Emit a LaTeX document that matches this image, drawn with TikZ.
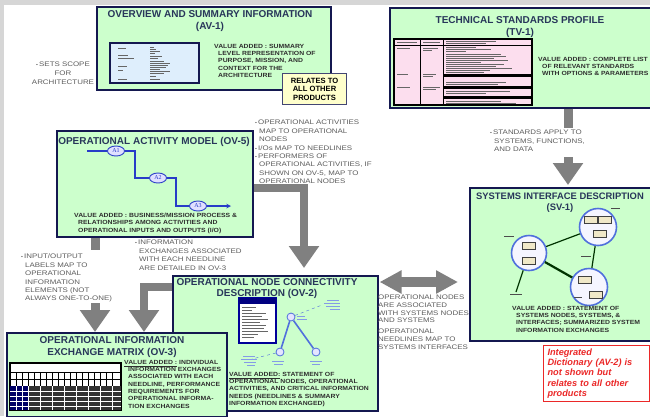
\documentclass[tikz,border=0pt]{standalone}
\usepackage{fontspec}
\setmainfont{Liberation Sans}
\newfontfamily\actfont{Liberation Serif}
\newfontfamily\valfont{Liberation Sans}[FakeStretch=1.14]
\newfontfamily\notefont{Liberation Sans}[FakeStretch=1.2]
\usetikzlibrary{arrows.meta,positioning,shapes.geometric}

\definecolor{boxgreen}{RGB}{204,255,204}
\definecolor{boxedge}{RGB}{20,24,80}
\definecolor{titlenavy}{RGB}{40,54,90}
\definecolor{notegray}{RGB}{92,92,92}
\definecolor{arrowgray}{RGB}{128,128,128}
\definecolor{framegray}{RGB}{214,214,214}
\definecolor{thumbblue}{RGB}{222,238,252}
\definecolor{tablepink}{RGB}{252,222,238}
\definecolor{actblue}{RGB}{40,60,200}
\definecolor{ringblue}{RGB}{80,112,220}
\definecolor{notered}{RGB}{235,40,40}
\definecolor{relyellow}{RGB}{255,255,204}
\definecolor{systan}{RGB}{240,232,200}

\newcommand{\nb}{{\fontsize{4.5}{4.5}\selectfont\textbullet}\,}
\newcommand{\ind}{\hspace*{4pt}}

\begin{document}
\begin{tikzpicture}[
x=1pt, y=-1pt,
>=stealth,
every node/.style={font=\fontsize{6}{7}\selectfont\bfseries},
viewbox/.style={draw=boxedge, line width=1.6pt, fill=boxgreen, anchor=north west, inner sep=0pt},
viewtitle/.style={font=\fontsize{10}{11.5}\selectfont\bfseries, text=titlenavy, align=center, inner sep=0pt},
valtext/.style={font=\valfont\fontsize{6}{7.3}\selectfont\bfseries, text=black!82, align=left, anchor=north west, inner sep=0pt},
notetext/.style={font=\notefont\fontsize{6.6}{8.4}\selectfont, text=notegray, align=left, anchor=north west, inner sep=0pt},
bigarrow/.style={draw=arrowgray, line width=9pt, -{Triangle[width=29pt,length=22pt]}},
stubline/.style={draw=arrowgray, line width=9pt},
twoway/.style={draw=arrowgray, line width=10pt, {Triangle[width=22pt,length=22pt]}-{Triangle[width=22pt,length=22pt]}},
thumb/.style={draw=boxedge, line width=1.2pt},
fakeline/.style={draw=black!60, line width=0.5pt},
bluefake/.style={draw=ringblue!70, line width=0.5pt},
activity/.style={ellipse, draw=actblue, fill=blue!12, line width=0.9pt, minimum width=17pt, minimum height=10pt, inner sep=0pt, font=\actfont\fontsize{6}{6}\selectfont, text=actblue},
actline/.style={draw=actblue, line width=1.1pt},
opnode/.style={circle, draw=ringblue, fill=blue!10, line width=0.8pt, minimum size=8pt, inner sep=0pt},
sysring/.style={circle, draw=ringblue, fill=blue!4, line width=1.6pt, minimum size=35pt, inner sep=0pt},
sysbox/.style={draw=black!75, fill=systan, line width=0.7pt, minimum width=13pt, minimum height=7pt, inner sep=0pt},
syslink/.style={draw=black!80!green, line width=1.2pt}
]

% frame
\fill[framegray] (0,0) rectangle (650,416);
\fill[white] (4,5) rectangle (650,416);
\useasboundingbox (0,0) rectangle (650,416);

% ---------------- AV-1 ----------------
\node[viewbox, minimum width=234pt, minimum height=83pt] (av1) at (96,6) {};
\node[viewtitle] (av1title) at (210,21) {OVERVIEW AND SUMMARY INFORMATION\\(AV-1)};
\draw[thumb, fill=thumbblue] (110,43) rectangle (199,83);
\foreach \y/\l in {48/8,55/10,58/16,66/9,70/5,79/9}
  \draw[fakeline] (118,\y) -- ++(\l,0);
\foreach \y/\l in {47/4,49/6,51/10,53/5,56/12,58/8,61/14,63/20,65/18,67/16,69/10,71/20,73/14,76/6,79/10}
  \draw[fakeline] (150,\y) -- ++(\l,0);
\node[valtext] (av1value) at (214,44) {VALUE ADDED : SUMMARY\\\ind LEVEL REPRESENTATION OF\\\ind PURPOSE, MISSION, AND\\\ind CONTEXT FOR THE\\\ind ARCHITECTURE};
\node[draw=boxedge!80, line width=1pt, fill=relyellow, minimum width=64pt, minimum height=31pt,
  anchor=north west, align=center, inner sep=0pt, font=\fontsize{7.6}{8.4}\selectfont\bfseries] (relates) at (282,73) {RELATES TO\\ALL OTHER\\PRODUCTS};
\node[notetext, align=center, anchor=north, font=\notefont\fontsize{6.6}{9}\selectfont] (scope) at (63,62) {\nb SETS SCOPE\\FOR\\ARCHITECTURE};

% ---------------- TV-1 ----------------
\node[viewbox, minimum width=270pt, minimum height=100pt] (tv1) at (389,7) {};
\node[viewtitle, font=\fontsize{10}{12}\selectfont\bfseries] (tv1title) at (520,27) {TECHNICAL STANDARDS  PROFILE\\(TV-1)};
\draw[thumb, draw=black, fill=tablepink] (394,39) rectangle (532,105);
\draw[black, line width=0.8pt] (420,39) -- (420,105) (443,39) -- (443,105) (394,45) -- (532,45);
\foreach \y/\l in {41/50,43/40,47/30,49/45,51/20,54/55,56/60,58/48,60/62,62/35,64/58,66/50,68/66,70/44,72/38,82/60,84/52,91/64,93/40,101/55,103/70}
  \draw[fakeline] (446,\y) -- ++(\l,0);
\foreach \y in {74,86,96}
  \fill[black] (443,\y) rectangle (532,\y+3);
\foreach \x/\y/\l in {397/42/20,397/48/13,397/74/11,397/87/13,423/42/17,423/48/15,423/50/9,423/74/13,423/76/10,423/87/17,423/89/13}
  \draw[fakeline] (\x,\y) -- ++(\l,0);
\node[valtext] (tv1value) at (538,57) {VALUE ADDED : COMPLETE LIST\\\ind OF RELEVANT STANDARDS\\\ind WITH OPTIONS \& PARAMETERS};

% ---------------- OV-5 ----------------
\node[viewbox, minimum width=196pt, minimum height=106pt] (ov5) at (56,130) {};
\node[viewtitle] (ov5title) at (154,142) {OPERATIONAL ACTIVITY MODEL (OV-5)};
\node[activity] (a1) at (116,151) {A1};
\node[activity] (a2) at (158,178) {A2};
\node[activity] (a3) at (198,206) {A3};
\coordinate (actin) at (87,151);
\coordinate (actout) at (231,206);
\draw[actline] (actin) -- (a1);
\draw[actline] (a1) -- ++(19,0) |- (a2);
\draw[actline] (a2) -- ++(18,0) |- (a3);
\draw[actline, ->] (a3) -- (actout);
\node[valtext] (ov5value) at (74,213) {VALUE ADDED : BUSINESS/MISSION PROCESS \&\\\ind RELATIONSHIPS AMONG ACTIVITIES AND\\\ind OPERATIONAL INPUTS AND OUTPUTS (I/O)};

% ---------------- OV-2 ----------------
\node[viewbox, minimum width=205pt, minimum height=135pt] (ov2) at (172,275) {};
\node[viewtitle] (ov2title) at (267,288.5) {OPERATIONAL NODE CONNECTIVITY\\DESCRIPTION (OV-2)};
\draw[draw=blue!60!black, line width=1.2pt, fill=white] (239,298) rectangle (276,343);
\fill[blue!50!black] (239,298) rectangle (276,304);
\foreach \y/\l in {307/14,310/10,313/24,316/20,319/26,322/18,325/24,328/22,331/26,334/16,337/12}
  \draw[fakeline] (242,\y) -- ++(\l,0);
\node[opnode] (n1) at (291,317) {};
\node[opnode] (n2) at (280,352) {};
\node[opnode] (n3) at (316,352) {};
\coordinate (lblA) at (322,305);
\coordinate (lblB) at (252,359);
\draw[draw=ringblue, line width=1.6pt] (n1) -- (n2) (n1) -- (n3);
\draw[ringblue, dashed, thin] (n1) -- (lblA);
\draw[ringblue, dashed, thin] (n2) -- (lblB);
\foreach \x/\y/\l in {327/300/12,324/303/16,326/306/14,330/309/10,297/316/8,297/319/10,243/356/12,241/359/16,244/362/12,247/365/8,272/361/12,274/364/9,310/361/12,312/364/8}
  \draw[bluefake] (\x,\y) -- ++(\l,0);
\node[valtext] (ov2value) at (229,372) {\underline{VALUE ADDED:} STATEMENT OF\\OPERATIONAL NODES, OPERATIONAL\\ACTIVITIES,  AND CRITICAL INFORMATION\\NEEDS  (NEEDLINES \& SUMMARY\\INFORMATION EXCHANGED)};

% ---------------- OV-3 ----------------
\node[viewbox, minimum width=220pt, minimum height=84pt] (ov3) at (6,332) {};
\node[viewtitle] (ov3title) at (112,347) {OPERATIONAL INFORMATION\\EXCHANGE MATRIX (OV-3)};
\draw[thumb, draw=black, fill=white] (10,363) rectangle (121,410);
\foreach \x in {16,22,28,34,40,46,52,58,64,70,76,82,88,94,100,106,112}
  \draw[black, line width=0.5pt] (\x,372) -- (\x,410);
\foreach \y in {372,379,386}
  \draw[black, line width=0.5pt] (10,\y) -- (121,\y);
\fill[black!80] (10,386) rectangle (121,410);
\fill[blue!40!black] (10,386) rectangle (28,410);
\foreach \y in {391,396,401,406}
  \draw[white, line width=0.7pt] (10,\y) -- (121,\y);
\foreach \x in {16,22,28,40,52,64,76,88,100,112}
  \draw[white, line width=0.4pt] (\x,386) -- (\x,410);
\node[valtext] (ov3value) at (124,360) {\underline{VALUE ADDED :} INDIVIDUAL\\\ind INFORMATION EXCHANGES\\\ind ASSOCIATED WITH EACH\\\ind NEEDLINE, PERFORMANCE\\\ind REQUIREMENTS FOR\\\ind OPERATIONAL INFORMA-\\\ind TION EXCHANGES};

% ---------------- SV-1 ----------------
\node[viewbox, minimum width=190pt, minimum height=153pt] (sv1) at (469,187) {};
\node[viewtitle, font=\fontsize{9.4}{11.5}\selectfont\bfseries] (sv1title) at (560,202.5) {SYSTEMS INTERFACE DESCRIPTION\\(SV-1)};
\node[sysring] (ringA) at (529,253) {};
\node[sysring, minimum size=37pt] (ringB) at (598,227) {};
\node[sysring, minimum size=37pt] (ringC) at (589,287) {};
\coordinate (sysout) at (516,292);
\draw[syslink] (ringA) -- (ringB);
\draw[syslink, line width=2.2pt] (ringA) -- (ringC);
\draw[syslink] (ringB) -- (ringC);
\draw[syslink] (ringA) -- (sysout);
\node[sysbox] (boxA1) at (529,246) {};
\node[sysbox] (boxA2) at (529,261) {};
\node[sysbox] (boxB1) at (591,220) {};
\node[sysbox] (boxB2) at (605,220) {};
\node[sysbox] (boxB3) at (600,234) {};
\node[sysbox] (boxC1) at (585,280) {};
\node[sysbox] (boxC2) at (596,295) {};
\foreach \x/\y/\l in {510/294/12,504/236/10,611/208/9,574/297/8,581/256/10}
  \draw[bluefake, draw=black!70] (\x,\y) -- ++(\l,0);
\node[valtext] (sv1value) at (512,306) {VALUE ADDED : STATEMENT OF\\\ind SYSTEMS NODES, SYSTEMS, \&\\\ind INTERFACES; SUMMARIZED SYSTEM\\\ind INFORMATION EXCHANGES};

% dictionary note
\node[draw=notered, line width=1pt, fill=white, text width=98pt, align=left, inner xsep=4pt, inner ysep=3pt,
  anchor=north west, text=notered, font=\fontsize{9.2}{10.3}\selectfont\bfseries\itshape] (dict) at (543,345)
  {Integrated\\Dictionary (AV-2) is\\not shown but\\relates to all other\\products};

% ---------------- notes ----------------
\node[notetext] (opsnote) at (255,120) {\nb OPERATIONAL ACTIVITIES\\\ind MAP TO OPERATIONAL\\\ind NODES\\\nb I/Os MAP TO NEEDLINES\\\nb PERFORMERS OF\\\ind OPERATIONAL ACTIVITIES, IF\\\ind SHOWN ON OV-5,  MAP TO\\\ind OPERATIONAL NODES};
\node[notetext] (ienote) at (135,240) {\nb INFORMATION\\\ind EXCHANGES ASSOCIATED\\\ind WITH EACH NEEDLINE\\\ind ARE DETAILED IN OV-3};
\node[notetext] (ionote) at (21,254) {\nb INPUT/OUTPUT\\\ind LABELS MAP TO\\\ind OPERATIONAL\\\ind INFORMATION\\\ind ELEMENTS (NOT\\\ind ALWAYS ONE-TO-ONE)};
\node[notetext] (stdnote) at (490,130) {\nb STANDARDS APPLY TO\\\ind SYSTEMS, FUNCTIONS,\\\ind AND DATA};
\node[notetext, font=\notefont\fontsize{6.6}{7.7}\selectfont] (assocnote) at (378,295) {OPERATIONAL NODES\\ARE ASSOCIATED\\WITH SYSTEMS NODES\\AND SYSTEMS};
\node[notetext, font=\notefont\fontsize{6.6}{7.7}\selectfont, below=6pt of assocnote.south west, anchor=north west] (needlnote) {OPERATIONAL\\NEEDLINES MAP TO\\SYSTEMS INTERFACES};

% ---------------- gray arrows ----------------
\coordinate (stdin) at (568,157);
\draw[stubline] (tv1.south -| stdin) -- ++(0,19);
\draw[bigarrow, shorten >=2pt] (stdin) -- (sv1.north -| stdin);

\coordinate (bendA) at (304,188);
\draw[bigarrow, line width=8pt, shorten >=7pt] (ov5.east |- bendA) -| (ov2.north -| bendA);

\coordinate (ioin) at (95,303);
\draw[stubline] (ov5.south -| ioin) -- ++(0,12);
\draw[bigarrow] (ioin) -- (ov3.north -| ioin);

\coordinate (bendB) at (144,287);
\draw[bigarrow, line width=8pt] (ov2.west |- bendB) -| (ov3.north -| bendB);

\coordinate (linkmid) at (418,282);
\draw[twoway, shorten <=1pt, shorten >=11pt] (ov2.east |- linkmid) -- (sv1.west |- linkmid);

\end{tikzpicture}
\end{document}
